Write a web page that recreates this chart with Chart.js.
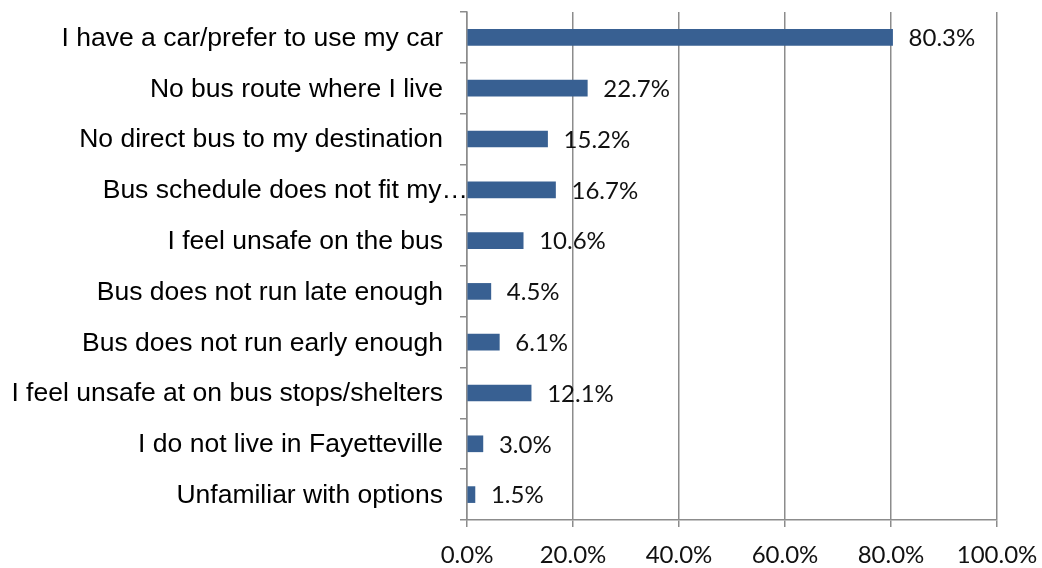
<!DOCTYPE html>
<html>
<head>
<meta charset="utf-8">
<title>Reasons for not riding the bus</title>
<script src="https://cdn.jsdelivr.net/npm/chart.js@4.4.1/dist/chart.umd.min.js"></script>
<style>
  html, body { margin: 0; padding: 0; background: #fff; }
  #wrap { width: 1042px; height: 568px; position: relative; }
</style>
</head>
<body>
<div id="wrap"><canvas id="reasons"></canvas></div>
<script>
const reasons = [
  'I have a car/prefer to use my car',
  'No bus route where I live',
  'No direct bus to my destination',
  'Bus schedule does not fit my\u2026',
  'I feel unsafe on the bus',
  'Bus does not run late enough',
  'Bus does not run early enough',
  'I feel unsafe at on bus stops/shelters',
  'I do not live in Fayetteville',
  'Unfamiliar with options'
];
const percents = [80.3, 22.7, 15.2, 16.7, 10.6, 4.5, 6.1, 12.1, 3.0, 1.5];
const xTicks = [0, 20, 40, 60, 80, 100];

const barColor = '#386092';
const gridColor = '#8c8c8c';
const numberFont = '24px Lato';
const labelFont = '26.5px "Liberation Sans"';

// category names on the left, right-aligned against the axis
const categoryLabels = {
  id: 'categoryLabels',
  afterDraw(chart) {
    const { ctx, chartArea } = chart;
    const y = chart.scales.y;
    ctx.save();
    ctx.font = labelFont;
    ctx.fillStyle = '#000';
    ctx.textAlign = 'right';
    ctx.textBaseline = 'middle';
    reasons.forEach((name, i) => {
      // a truncated name runs up to the axis line
      const right = name.endsWith('\u2026') ? chartArea.left + 1 : chartArea.left - 24;
      ctx.fillText(name, right, y.getPixelForValue(i) + 1);
    });
    ctx.restore();
  }
};

// percentage next to the end of each bar
const valueLabels = {
  id: 'valueLabels',
  afterDatasetsDraw(chart) {
    const { ctx } = chart;
    const meta = chart.getDatasetMeta(0);
    ctx.save();
    ctx.font = numberFont;
    ctx.fillStyle = '#111';
    ctx.textAlign = 'left';
    ctx.textBaseline = 'middle';
    meta.data.forEach((bar, i) => {
      ctx.fillText(percents[i].toFixed(1) + '%', bar.x + 16, bar.y + 1);
    });
    ctx.restore();
  }
};

new Chart(document.getElementById('reasons'), {
  type: 'bar',
  data: {
    labels: reasons,
    datasets: [{
      data: percents,
      backgroundColor: barColor,
      barThickness: 16
    }]
  },
  options: {
    indexAxis: 'y',
    responsive: true,
    maintainAspectRatio: false,
    animation: false,
    layout: { padding: { top: 12, right: 45, left: 0, bottom: 0 } },
    plugins: {
      legend: { display: false },
      tooltip: { enabled: false }
    },
    scales: {
      x: {
        min: 0,
        max: 100,
        afterBuildTicks: s => { s.ticks = xTicks.map(v => ({ value: v })); },
        afterFit: s => {
          s.height = 48;
          s.paddingLeft = 0;
          s.paddingRight = 0;
        },
        ticks: {
          callback: v => v.toFixed(1) + '%',
          font: { family: 'Lato', size: 24 },
          color: '#111',
          padding: 14,
          maxRotation: 0
        },
        grid: { color: gridColor, lineWidth: 1.5, tickLength: 7 },
        border: { color: gridColor, width: 1.5 }
      },
      y: {
        afterFit: s => { s.width = 467; },
        ticks: { display: false },
        grid: {
          offset: true,
          drawOnChartArea: false,
          color: gridColor,
          lineWidth: 1.5,
          tickLength: 7
        },
        border: { color: gridColor, width: 1.5 }
      }
    }
  },
  plugins: [categoryLabels, valueLabels]
});
</script>
</body>
</html>
